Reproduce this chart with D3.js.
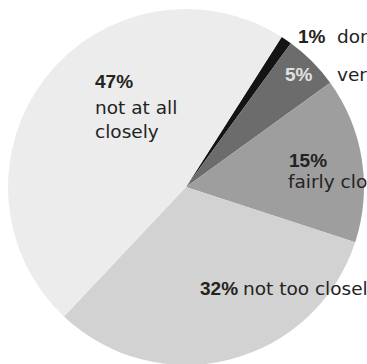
<!DOCTYPE html>
<html>
<head>
<meta charset="utf-8">
<script src="https://cdn.jsdelivr.net/npm/d3@7/dist/d3.min.js"></script>
<style>
  html, body { margin: 0; padding: 0; background: #fff; overflow: hidden; }
  svg { display: block; }
  .pct { font-family: "Liberation Sans", sans-serif; font-weight: bold; font-size: 19px; }
  .cat { font-family: "DejaVu Sans", sans-serif; font-size: 18.5px; }
</style>
</head>
<body>
<svg id="chart" width="367" height="364"></svg>
<script>
// How closely people followed the story (share of respondents)
const categories = ["don't know", "very closely", "fairly closely", "not too closely", "not at all closely"];
const percents = [1, 5, 15, 32, 47];
const sliceColors = ["#141414", "#6c6c6c", "#9e9e9e", "#d2d2d2", "#ececec"];

const width = 367, height = 364;
const cx = 186, cy = 187, radius = 178;
const startDeg = 32.5;

const svg = d3.select("#chart");
const g = svg.append("g").attr("transform", `translate(${cx},${cy})`);

const pie = d3.pie()
  .sort(null)
  .value(d => d)
  .startAngle(startDeg * Math.PI / 180)
  .endAngle((startDeg + 360) * Math.PI / 180);

const arc = d3.arc().innerRadius(0).outerRadius(radius);
const arcs = pie(percents);

g.selectAll("path.slice")
  .data(arcs)
  .join("path")
  .attr("class", "slice")
  .attr("d", arc)
  .attr("fill", (d, i) => sliceColors[i]);

// Label layout: where the percentage sits, where the category text starts,
// and how the category text is broken into lines
const labelLayout = [
  { px: 298, py: 43, tx: 337, ty: 43, lh: 0, lines: null },
  { px: 285, py: 81, tx: 337, ty: 81, lh: 0, lines: null, light: true },
  { px: 289, py: 167, tx: 288, ty: 188, lh: 0, lines: null },
  { px: 200, py: 295, tx: 243, ty: 295, lh: 0, lines: null },
  { px: 95, py: 88, tx: 95, ty: 114, lh: 24, lines: ["not at all", "closely"] }
];

const labels = svg.append("g").attr("fill", "#232323");

arcs.forEach((a, i) => {
  const L = labelLayout[i];
  labels.append("text")
    .attr("class", "pct")
    .attr("x", L.px).attr("y", L.py)
    .attr("fill", L.light ? "#e2e2e2" : null)
    .text(percents[i] + "%");
  const lines = L.lines || [categories[i]];
  lines.forEach((ln, k) => {
    labels.append("text")
      .attr("class", "cat")
      .attr("x", L.tx).attr("y", L.ty + L.lh * k)
      .text(ln);
  });
});
</script>
</body>
</html>
